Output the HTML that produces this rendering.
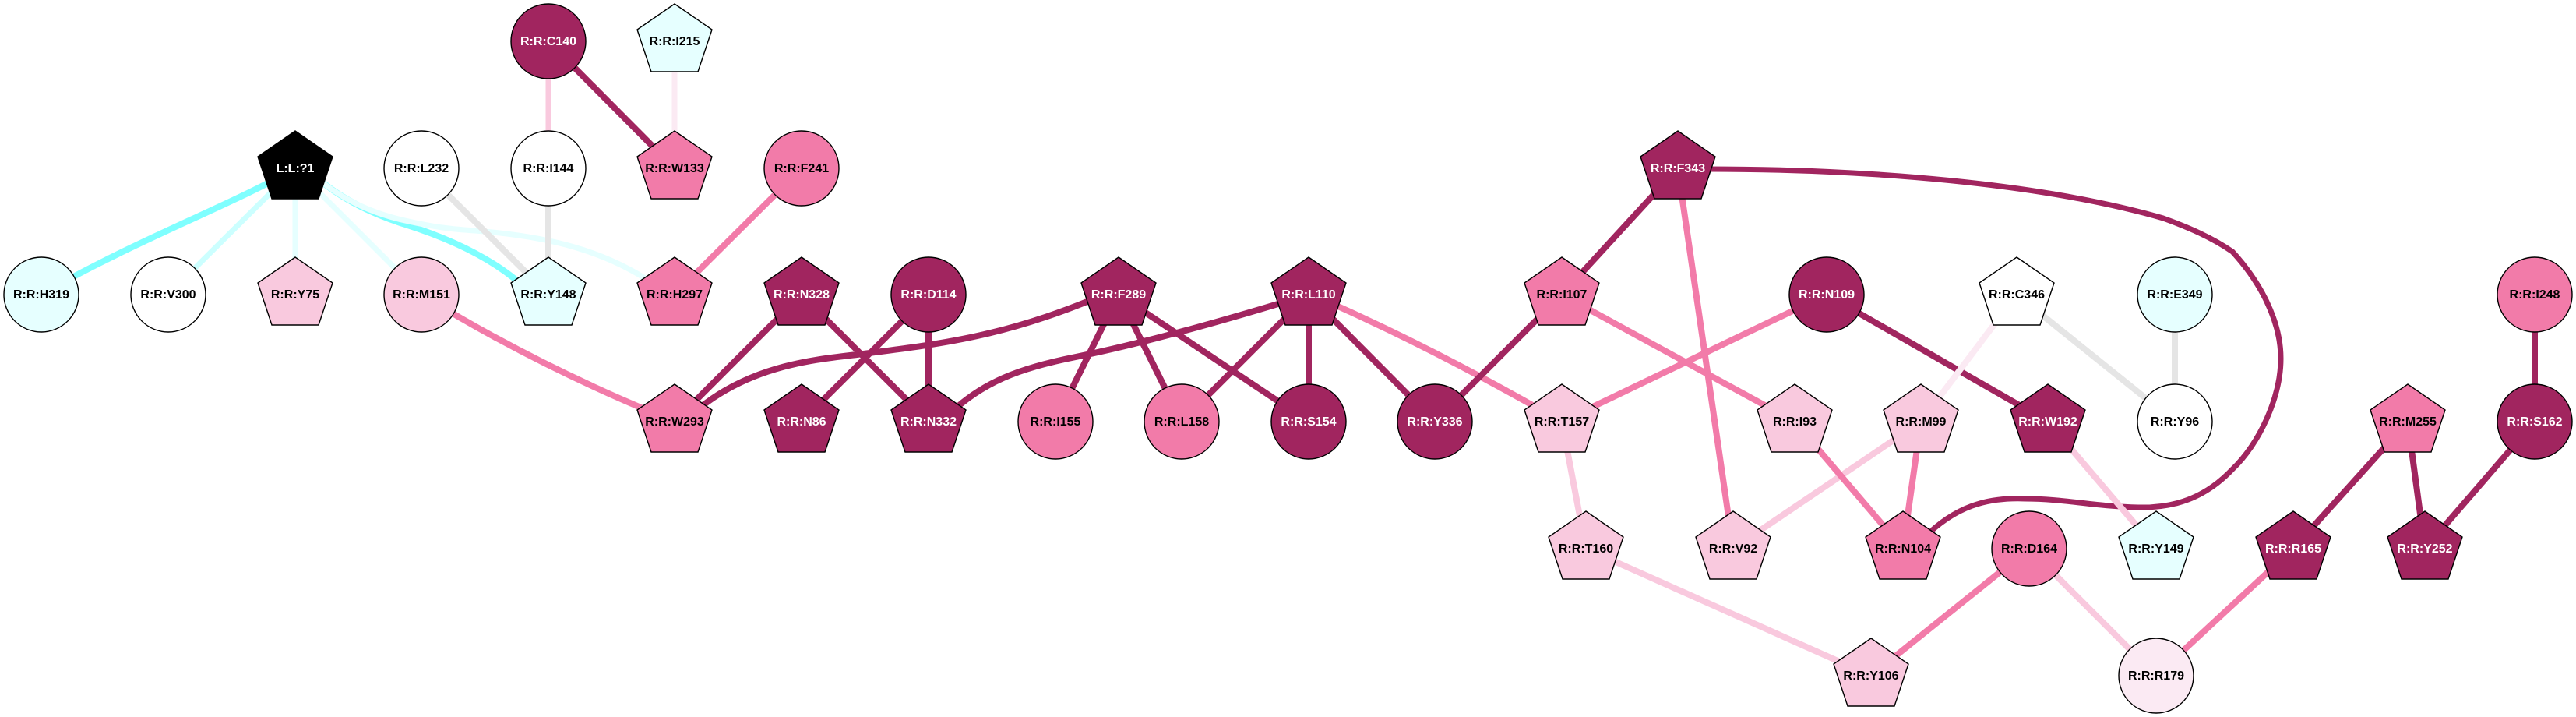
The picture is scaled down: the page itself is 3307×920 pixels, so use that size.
<!DOCTYPE html>
<html><head><meta charset="utf-8"><title>Network</title>
<style>
html,body{margin:0;padding:0;background:#fff}
svg{display:block}
.e{fill:none;stroke-width:8;stroke-linecap:butt}
.s{stroke-width:7}
.d{stroke:#a1255f}.m{stroke:#f27ba9}.l{stroke:#f9c9de}.v{stroke:#fbeaf3}
.c{stroke:#e6ffff}.b{stroke:#ccffff}.k{stroke:#7fffff}.g{stroke:#e5e5e5}
.n{stroke:#000;stroke-width:1.4}
.D{fill:#a1255f}.M{fill:#f27ba9}.L{fill:#f9c9de}.V{fill:#fbeaf3}.C{fill:#e6ffff}.W{fill:#fff}.K{fill:#000}
text{font:bold 16px "Liberation Sans",Arial,sans-serif;text-anchor:middle;fill:#000}
text.t{fill:#fff}
</style></head><body>
<svg width="3307" height="920" viewBox="0 0 3307 920" xmlns="http://www.w3.org/2000/svg">
<rect width="3307" height="920" fill="#fff"/>
<defs><polygon id="p" points="0,-48 48,-15 30,39 -30,39 -48,-15"/></defs>
<g>
<path class="e k" d="M379,216 C300,262 170,310 53,378"/>
<path class="e s b" d="M379,216L216,378"/>
<path class="e s c" d="M379,216V378"/>
<path class="e s c" d="M379,216L541,378"/>
<path class="e k" d="M400,222 C430,250 470,272 520,288 C580,307 640,335 680,375"/>
<path class="e s c" d="M400,222 C430,250 470,272 520,283 C560,292 580,294 610,296 C700,303 780,320 850,372"/>
<path class="e g" d="M541,216L704,378"/>
<path class="e g" d="M704,216V378"/>
<path class="e s l" d="M704,53V216"/>
<path class="e d" d="M704,53L866,216"/>
<path class="e s v" d="M866,53V216"/>
<path class="e m" d="M1029,216L866,378"/>
<path class="e m" d="M541,378 Q690,470 866,541"/>
<path class="e d" d="M1029,378L866,541"/>
<path class="e d" d="M1029,378L1192,541"/>
<path class="e d" d="M1192,378L1029,541"/>
<path class="e d" d="M1192,378V541"/>
<path class="e d" d="M890,530 C960,470 1040,462 1100,455 C1220,440 1300,430 1436,370"/>
<path class="e d" d="M1436,378L1355,541"/>
<path class="e d" d="M1436,378L1517,541"/>
<path class="e d" d="M1436,378L1680,541"/>
<path class="e d" d="M1215,535 C1260,490 1310,472 1381,458 C1460,442 1560,415 1680,378"/>
<path class="e d" d="M1680,378L1517,541"/>
<path class="e d" d="M1680,378V541"/>
<path class="e d" d="M1680,378L1842,541"/>
<path class="e m" d="M1700,385 C1790,425 1880,470 1985,530"/>
<path class="e d" d="M2005,378L1842,541"/>
<path class="e d" d="M2154,216L2005,378"/>
<path class="e m" d="M2154,216L2225,704"/>
<path class="e s d" d="M2190,217 C2400,217 2620,235 2777,280 C2810,292 2840,305 2866,323 C2900,360 2928,410 2928,460 C2928,510 2900,570 2866,602 C2830,640 2790,652 2745,651 C2690,650 2650,640 2600,640 C2550,638 2510,650 2470,690"/>
<path class="e m" d="M2005,378L2304,541"/>
<path class="e m" d="M2345,378L2005,541"/>
<path class="e d" d="M2345,378L2629,541"/>
<path class="e l" d="M2005,541L2036,704"/>
<path class="e l" d="M2036,704L2402,867"/>
<path class="e v" d="M2589,378L2466,541"/>
<path class="e l" d="M2466,541L2225,704"/>
<path class="e m" d="M2466,541L2443,704"/>
<path class="e m" d="M2304,541L2443,704"/>
<path class="e g" d="M2589,378L2792,541"/>
<path class="e g" d="M2792,378V541"/>
<path class="e l" d="M2629,541L2768,704"/>
<path class="e m" d="M2605,704L2402,867"/>
<path class="e l" d="M2605,704L2768,867"/>
<path class="e m" d="M2768,867L2944,704"/>
<path class="e d" d="M2944,704L3091,541"/>
<path class="e d" d="M3091,541L3113,704"/>
<path class="e d" d="M3113,704L3254,541"/>
<path class="e d" d="M3254,378V541"/>
</g>
<g class="n">
<ellipse class="D" cx="704" cy="53" rx="48" ry="48"/>
<use href="#p" class="C" x="866" y="53"/>
<use href="#p" class="K" x="379" y="216"/>
<ellipse class="W" cx="541" cy="216" rx="48" ry="48"/>
<ellipse class="W" cx="704" cy="216" rx="48" ry="48"/>
<use href="#p" class="M" x="866" y="216"/>
<ellipse class="M" cx="1029" cy="216" rx="48" ry="48"/>
<use href="#p" class="D" x="2154" y="216"/>
<ellipse class="C" cx="53" cy="378" rx="48" ry="48"/>
<ellipse class="W" cx="216" cy="378" rx="48" ry="48"/>
<use href="#p" class="L" x="379" y="378"/>
<ellipse class="L" cx="541" cy="378" rx="48" ry="48"/>
<use href="#p" class="C" x="704" y="378"/>
<use href="#p" class="M" x="866" y="378"/>
<use href="#p" class="D" x="1029" y="378"/>
<ellipse class="D" cx="1192" cy="378" rx="48" ry="48"/>
<use href="#p" class="D" x="1436" y="378"/>
<use href="#p" class="D" x="1680" y="378"/>
<use href="#p" class="M" x="2005" y="378"/>
<ellipse class="D" cx="2345" cy="378" rx="48" ry="48"/>
<use href="#p" class="W" x="2589" y="378"/>
<ellipse class="C" cx="2792" cy="378" rx="48" ry="48"/>
<ellipse class="M" cx="3254" cy="378" rx="48" ry="48"/>
<use href="#p" class="M" x="866" y="541"/>
<use href="#p" class="D" x="1029" y="541"/>
<use href="#p" class="D" x="1192" y="541"/>
<ellipse class="M" cx="1355" cy="541" rx="48" ry="48"/>
<ellipse class="M" cx="1517" cy="541" rx="48" ry="48"/>
<ellipse class="D" cx="1680" cy="541" rx="48" ry="48"/>
<ellipse class="D" cx="1842" cy="541" rx="48" ry="48"/>
<use href="#p" class="L" x="2005" y="541"/>
<use href="#p" class="L" x="2304" y="541"/>
<use href="#p" class="L" x="2466" y="541"/>
<use href="#p" class="D" x="2629" y="541"/>
<ellipse class="W" cx="2792" cy="541" rx="48" ry="48"/>
<use href="#p" class="M" x="3091" y="541"/>
<ellipse class="D" cx="3254" cy="541" rx="48" ry="48"/>
<use href="#p" class="L" x="2036" y="704"/>
<use href="#p" class="L" x="2225" y="704"/>
<use href="#p" class="M" x="2443" y="704"/>
<ellipse class="M" cx="2605" cy="704" rx="48" ry="48"/>
<use href="#p" class="C" x="2768" y="704"/>
<use href="#p" class="D" x="2944" y="704"/>
<use href="#p" class="D" x="3113" y="704"/>
<use href="#p" class="L" x="2402" y="867"/>
<ellipse class="V" cx="2768" cy="867" rx="48" ry="48"/>
</g>
<g>
<text class="t" x="704" y="58">R:R:C140</text>
<text x="866" y="58">R:R:I215</text>
<text class="t" x="379" y="221">L:L:?1</text>
<text x="541" y="221">R:R:L232</text>
<text x="704" y="221">R:R:I144</text>
<text x="866" y="221">R:R:W133</text>
<text x="1029" y="221">R:R:F241</text>
<text class="t" x="2154" y="221">R:R:F343</text>
<text x="53" y="383">R:R:H319</text>
<text x="216" y="383">R:R:V300</text>
<text x="379" y="383">R:R:Y75</text>
<text x="541" y="383">R:R:M151</text>
<text x="704" y="383">R:R:Y148</text>
<text x="866" y="383">R:R:H297</text>
<text class="t" x="1029" y="383">R:R:N328</text>
<text class="t" x="1192" y="383">R:R:D114</text>
<text class="t" x="1436" y="383">R:R:F289</text>
<text class="t" x="1680" y="383">R:R:L110</text>
<text x="2005" y="383">R:R:I107</text>
<text class="t" x="2345" y="383">R:R:N109</text>
<text x="2589" y="383">R:R:C346</text>
<text x="2792" y="383">R:R:E349</text>
<text x="3254" y="383">R:R:I248</text>
<text x="866" y="546">R:R:W293</text>
<text class="t" x="1029" y="546">R:R:N86</text>
<text class="t" x="1192" y="546">R:R:N332</text>
<text x="1355" y="546">R:R:I155</text>
<text x="1517" y="546">R:R:L158</text>
<text class="t" x="1680" y="546">R:R:S154</text>
<text class="t" x="1842" y="546">R:R:Y336</text>
<text x="2005" y="546">R:R:T157</text>
<text x="2304" y="546">R:R:I93</text>
<text x="2466" y="546">R:R:M99</text>
<text class="t" x="2629" y="546">R:R:W192</text>
<text x="2792" y="546">R:R:Y96</text>
<text x="3091" y="546">R:R:M255</text>
<text class="t" x="3254" y="546">R:R:S162</text>
<text x="2036" y="709">R:R:T160</text>
<text x="2225" y="709">R:R:V92</text>
<text x="2443" y="709">R:R:N104</text>
<text x="2605" y="709">R:R:D164</text>
<text x="2768" y="709">R:R:Y149</text>
<text class="t" x="2944" y="709">R:R:R165</text>
<text class="t" x="3113" y="709">R:R:Y252</text>
<text x="2402" y="872">R:R:Y106</text>
<text x="2768" y="872">R:R:R179</text>
</g>
</svg>
</body></html>
